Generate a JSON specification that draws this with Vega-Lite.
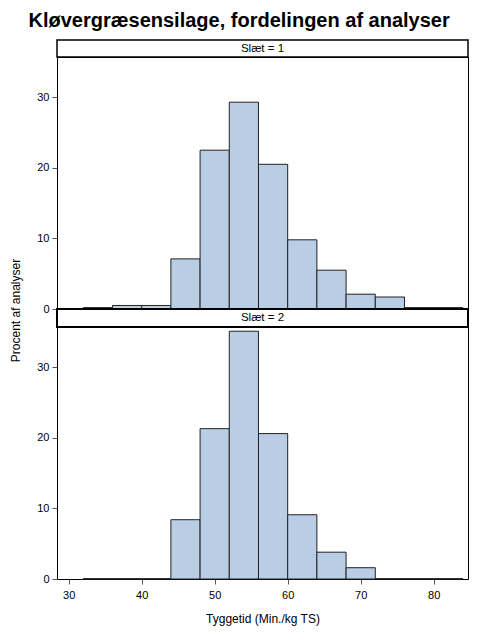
{
  "$schema": "https://vega.github.io/schema/vega-lite/v6.json",
  "title": {
    "text": "Kløvergræsensilage, fordelingen af analyser",
    "font": "Liberation Sans",
    "fontSize": 20,
    "fontWeight": "bold",
    "color": "black",
    "anchor": "middle",
    "frame": "bounds",
    "offset": 8
  },
  "padding": {"top": 11, "left": 9, "right": 10, "bottom": 5},
  "background": "white",
  "spacing": 0,
  "bounds": "flush",
  "datasets": {
    "hist": [
      {"slaet": 1, "bin_start": 32, "bin_end": 36, "pct": 0.2},
      {"slaet": 1, "bin_start": 36, "bin_end": 40, "pct": 0.5},
      {"slaet": 1, "bin_start": 40, "bin_end": 44, "pct": 0.5},
      {"slaet": 1, "bin_start": 44, "bin_end": 48, "pct": 7.1},
      {"slaet": 1, "bin_start": 48, "bin_end": 52, "pct": 22.5},
      {"slaet": 1, "bin_start": 52, "bin_end": 56, "pct": 29.3},
      {"slaet": 1, "bin_start": 56, "bin_end": 60, "pct": 20.5},
      {"slaet": 1, "bin_start": 60, "bin_end": 64, "pct": 9.8},
      {"slaet": 1, "bin_start": 64, "bin_end": 68, "pct": 5.5},
      {"slaet": 1, "bin_start": 68, "bin_end": 72, "pct": 2.1},
      {"slaet": 1, "bin_start": 72, "bin_end": 76, "pct": 1.7},
      {"slaet": 1, "bin_start": 76, "bin_end": 80, "pct": 0.2},
      {"slaet": 1, "bin_start": 80, "bin_end": 84, "pct": 0.2},
      {"slaet": 2, "bin_start": 32, "bin_end": 36, "pct": 0.05},
      {"slaet": 2, "bin_start": 36, "bin_end": 40, "pct": 0.05},
      {"slaet": 2, "bin_start": 40, "bin_end": 44, "pct": 0.05},
      {"slaet": 2, "bin_start": 44, "bin_end": 48, "pct": 8.4},
      {"slaet": 2, "bin_start": 48, "bin_end": 52, "pct": 21.3},
      {"slaet": 2, "bin_start": 52, "bin_end": 56, "pct": 35.1},
      {"slaet": 2, "bin_start": 56, "bin_end": 60, "pct": 20.6},
      {"slaet": 2, "bin_start": 60, "bin_end": 64, "pct": 9.1},
      {"slaet": 2, "bin_start": 64, "bin_end": 68, "pct": 3.8},
      {"slaet": 2, "bin_start": 68, "bin_end": 72, "pct": 1.6},
      {"slaet": 2, "bin_start": 72, "bin_end": 76, "pct": 0.05},
      {"slaet": 2, "bin_start": 76, "bin_end": 80, "pct": 0.05},
      {"slaet": 2, "bin_start": 80, "bin_end": 84, "pct": 0.05}
    ],
    "strip1": [{"label": "Slæt = 1"}],
    "strip2": [{"label": "Slæt = 2"}]
  },
  "vconcat": [
    {
      "width": 411,
      "height": 17,
      "data": {"name": "strip1"},
      "view": {"stroke": "black", "strokeWidth": 1.5},
      "mark": {"type": "text", "font": "Liberation Sans", "fontSize": 11.5, "color": "black", "baseline": "middle"},
      "encoding": {"text": {"field": "label", "type": "nominal"}}
    },
    {
      "width": 411,
      "height": 252,
      "data": {"name": "hist"},
      "transform": [{"filter": "datum.slaet == 1"}],
      "view": {"stroke": "black", "strokeWidth": 1},
      "mark": {"type": "bar", "fill": "#b9cde5", "stroke": "#222222", "strokeWidth": 1},
      "encoding": {
        "x": {
          "field": "bin_start",
          "type": "quantitative",
          "scale": {"domain": [28.4, 84.7], "nice": false, "zero": false},
          "axis": null
        },
        "x2": {"field": "bin_end"},
        "y": {
          "field": "pct",
          "type": "quantitative",
          "scale": {"domain": [0, 35.7], "nice": false},
          "axis": {
            "title": "Procent af analyser",
            "values": [0, 10, 20, 30],
            "titleY": 253,
            "titleAlign": "center",
            "titlePadding": 14
          }
        },
        "y2": {"datum": 0}
      }
    },
    {
      "width": 411,
      "height": 18,
      "data": {"name": "strip2"},
      "view": {"stroke": "black", "strokeWidth": 2},
      "mark": {"type": "text", "font": "Liberation Sans", "fontSize": 11.5, "color": "black", "baseline": "middle"},
      "encoding": {"text": {"field": "label", "type": "nominal"}}
    },
    {
      "width": 411,
      "height": 252,
      "data": {"name": "hist"},
      "transform": [{"filter": "datum.slaet == 2"}],
      "view": {"stroke": "black", "strokeWidth": 1},
      "mark": {"type": "bar", "fill": "#b9cde5", "stroke": "#222222", "strokeWidth": 1},
      "encoding": {
        "x": {
          "field": "bin_start",
          "type": "quantitative",
          "scale": {"domain": [28.4, 84.7], "nice": false, "zero": false},
          "axis": {
            "title": "Tyggetid (Min./kg TS)",
            "values": [30, 40, 50, 60, 70, 80],
            "labelPadding": 5,
            "titlePadding": 13
          }
        },
        "x2": {"field": "bin_end"},
        "y": {
          "field": "pct",
          "type": "quantitative",
          "scale": {"domain": [0, 35.7], "nice": false},
          "axis": {"title": null, "values": [0, 10, 20, 30]}
        },
        "y2": {"datum": 0}
      }
    }
  ],
  "config": {
    "font": "Liberation Sans",
    "axis": {
      "grid": false,
      "domain": false,
      "tickSize": 5,
      "tickColor": "#555555",
      "labelFont": "Liberation Sans",
      "labelFontSize": 11,
      "labelColor": "black",
      "titleFont": "Liberation Sans",
      "titleFontSize": 12,
      "titleFontWeight": "normal",
      "titleColor": "black",
      "labelPadding": 3
    }
  }
}
